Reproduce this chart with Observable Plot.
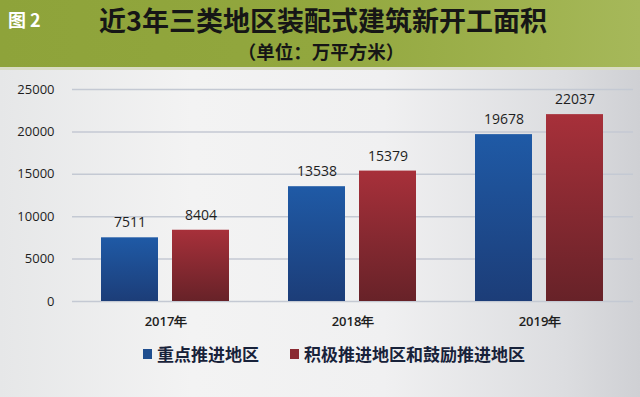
<!DOCTYPE html>
<html>
<head>
<meta charset="utf-8">
<script src="https://cdn.jsdelivr.net/npm/d3@7"></script>
<script src="https://cdn.jsdelivr.net/npm/@observablehq/plot@0.6"></script>
<style>
  html, body { margin: 0; padding: 0; }
  body {
    width: 640px; height: 397px; overflow: hidden; position: relative;
    background: linear-gradient(to right, #e6e7e8 0%, #f3f3f3 30%, #f0f0f1 60%, #dcdde0 88%, #cfd0d4 100%);
    font-family: "Noto Sans CJK SC", "Noto Sans", sans-serif;
  }
  #header {
    position: absolute; left: 0; top: 0; width: 640px; height: 67px;
    background: linear-gradient(to right, #8ea33a 0%, #92a73e 50%, #a0b350 85%, #a6b85a 100%);
    border-bottom: 3px solid #d9dcc4;
  }
  #header div { line-height: 1; }
  #fig { position: absolute; left: 8px; top: 10px; color: #fff; font-weight: 700; font-size: 18px; font-family: "Noto Sans CJK SC", sans-serif; }
  #title { position: absolute; left: 0; width: 646px; top: 6px; text-align: center; font-weight: 700; font-size: 27px; color: #161616; }
  #subtitle { position: absolute; left: 0; width: 642px; top: 42px; text-align: center; font-weight: 700; font-size: 18.5px; color: #161616; }
  #chart { position: absolute; left: 0; top: 70px; }
  #legend { position: absolute; left: 143px; top: 344px; display: flex; align-items: center; font-weight: 700; font-size: 17px; line-height: 1.2; color: #18223a; white-space: nowrap; }
  .sw { display: inline-block; width: 9px; height: 10px; margin-right: 5px; }
</style>
</head>
<body>
<div id="header">
  <div id="fig">图 2</div>
  <div id="title">近3年三类地区装配式建筑新开工面积</div>
  <div id="subtitle">（单位：万平方米）</div>
</div>
<div id="chart"></div>
<div id="legend"></div>
<script>
const years = ["2017年", "2018年", "2019年"];
const seriesNames = ["重点推进地区", "积极推进地区和鼓励推进地区"];
const keyRegion = [7511, 13538, 19678];
const otherRegion = [8404, 15379, 22037];
const yTicks = [0, 5000, 10000, 15000, 20000, 25000];
const seriesColors = ["#1f4e8f", "#8b2a32"];

const rows = [];
years.forEach((y, i) => {
  rows.push({year: y, series: seriesNames[0], value: keyRegion[i]});
  rows.push({year: y, series: seriesNames[1], value: otherRegion[i]});
});

const defs = () => {
  const svg = d3.create("svg:defs");
  const g1 = svg.append("linearGradient").attr("id", "gBlue").attr("x1", 0).attr("x2", 0).attr("y1", 0).attr("y2", 1);
  g1.append("stop").attr("offset", "0%").attr("stop-color", "#1f5aa6");
  g1.append("stop").attr("offset", "100%").attr("stop-color", "#1c3d78");
  const g2 = svg.append("linearGradient").attr("id", "gRed").attr("x1", 0).attr("x2", 0).attr("y1", 0).attr("y2", 1);
  g2.append("stop").attr("offset", "0%").attr("stop-color", "#a7303a");
  g2.append("stop").attr("offset", "100%").attr("stop-color", "#672228");
  return svg.node();
};

const fillFor = {[seriesNames[0]]: "url(#gBlue)", [seriesNames[1]]: "url(#gRed)"};

const chart = Plot.plot({
  width: 640,
  height: 265,
  marginLeft: 72,
  marginRight: 7,
  marginTop: 19,
  marginBottom: 34,
  style: {background: "transparent", fontFamily: "'Open Sans', sans-serif", color: "#1e1e1e"},
  fx: {domain: years, padding: 0, label: null},
  x: {domain: seriesNames, paddingInner: 0.194, paddingOuter: 0.396, axis: null},
  y: {domain: [0, 25000], label: null},
  marks: [
    defs,
    Plot.gridY(yTicks, {stroke: "#c4c9d3", strokeOpacity: 1, strokeWidth: 1.5}),
    Plot.axisY(yTicks, {tickSize: 0, tickPadding: 18, fontSize: 13, fontWeight: 500, label: null, tickFormat: d => String(d)}),
    Plot.axisFx({anchor: "bottom", tickSize: 0, tickPadding: 15, fontSize: 13, fontWeight: 600, label: null}),
    ...seriesNames.map(s => Plot.barY(rows.filter(r => r.series === s), {
      fx: "year", x: "series", y: "value", fill: fillFor[s]
    })),
    Plot.text(rows, {fx: "year", x: "series", y: "value", text: d => String(d.value), dy: -15, fontSize: 14, fontWeight: 500, fill: "#1e1e1e"})
  ]
});
document.getElementById("chart").appendChild(chart);

const legend = document.getElementById("legend");
seriesNames.forEach((s, i) => {
  const item = document.createElement("span");
  item.style.display = "inline-flex";
  item.style.alignItems = "center";
  item.style.marginRight = i === 0 ? "31px" : "0";
  const sw = document.createElement("span");
  sw.className = "sw";
  sw.style.background = seriesColors[i];
  item.appendChild(sw);
  item.appendChild(document.createTextNode(s));
  legend.appendChild(item);
});
</script>
</body>
</html>
